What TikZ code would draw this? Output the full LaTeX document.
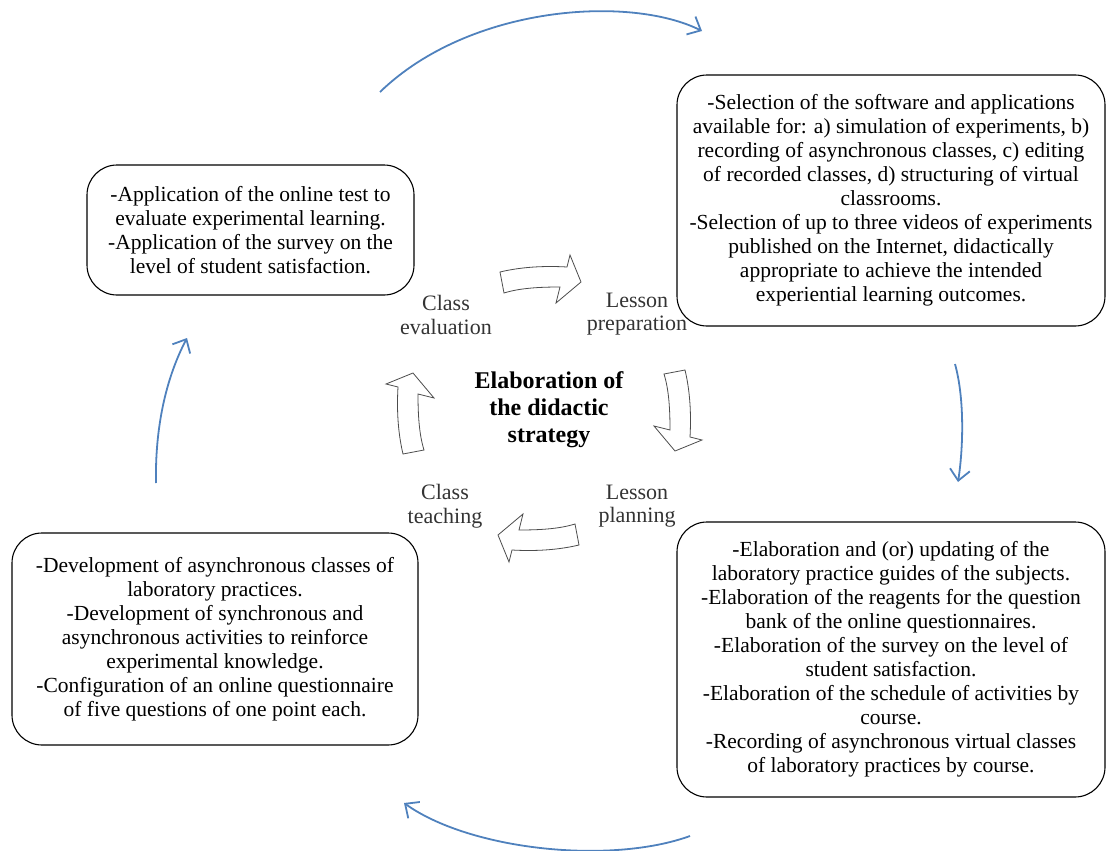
\documentclass[tikz,border=0pt]{standalone}
\usepackage{fontspec}
\setmainfont{Liberation Serif}
\usetikzlibrary{arrows.meta}
\definecolor{flowblue}{RGB}{79,129,189}
\begin{document}
\begin{tikzpicture}[x=1pt,y=-1pt,
  box/.style={draw, rounded corners=30pt, line width=1.1pt, align=center,
    font=\fontsize{21.5}{24}\selectfont, inner sep=0pt},
  lbl/.style={align=center, font=\fontsize{22}{23.5}\selectfont, text=black!80},
  title/.style={align=center, font=\fontsize{24}{27}\selectfont\bfseries},
  flow/.style={draw=flowblue, line width=1.8pt, -{Straight Barb[length=11pt,width=20pt,line width=1.8pt]}},
  barrow/.pic={
    \draw[line width=0.8pt, draw=black!70, fill=white, line join=miter]
      (-40,-10) .. controls (-15,-16) and (10,-16) .. (27,-15)
      -- (30,-27) -- (41,0) -- (16,21) -- (20,5)
      .. controls (0,5) and (-20,6) .. (-36,11) -- cycle;
  }]
\useasboundingbox (0,0) rectangle (1106,851);

% boxes
\node[box, minimum width=327pt, minimum height=130pt] (eval) at (250.5,230)
  {-Application of the online test to\\evaluate experimental learning.\\-Application of the survey on the\\level of student satisfaction.};
\node[box, minimum width=428pt, minimum height=251pt] (prep) at (891,200.5)
  {-Selection of the software and applications\\available for: a) simulation of experiments, b)\\recording of asynchronous classes, c) editing\\of recorded classes, d) structuring of virtual\\classrooms.\\-Selection of up to three videos of experiments\\published on the Internet, didactically\\appropriate to achieve the intended\\experiential learning outcomes.};
\node[box, minimum width=406pt, minimum height=212pt] (teach) at (215,639)
  {-Development of asynchronous classes of\\laboratory practices.\\-Development of synchronous and\\asynchronous activities to reinforce\\experimental knowledge.\\-Configuration of an online questionnaire\\of five questions of one point each.};
\node[box, minimum width=428pt, minimum height=275pt] (plan) at (891,659.5)
  {-Elaboration and (or) updating of the\\laboratory practice guides of the subjects.\\-Elaboration of the reagents for the question\\bank of the online questionnaires.\\-Elaboration of the survey on the level of\\student satisfaction.\\-Elaboration of the schedule of activities by\\course.\\-Recording of asynchronous virtual classes\\of laboratory practices by course.};

% labels
\node[lbl] (lEval) at (446,315) {Class\\evaluation};
\node[lbl] (lPrep) at (637,314) {Lesson\\preparation};
\node[lbl] (lTeach) at (445,506) {Class\\teaching};
\node[lbl] (lPlan) at (637,506) {Lesson\\planning};
\node[title] (center) at (549,410) {Elaboration of\\the didactic\\strategy};

% block arrows
\pic at (540,282) {barrow};
\pic[rotate=-90] at (675,410) {barrow};
\pic[rotate=180] at (539,535) {barrow};
\pic[rotate=90] at (413,414) {barrow};

% blue flow arrows
\coordinate (t1) at (380,92);  \coordinate (t2) at (702,31);
\coordinate (r1) at (955,364); \coordinate (r2) at (958,482);
\coordinate (b1) at (690,836); \coordinate (b2) at (404,803);
\coordinate (l1) at (156,483); \coordinate (l2) at (187,338);
\draw[flow] (t1) .. controls (470,5) and (630,-5) .. (t2);
\draw[flow] (r1) .. controls (965,400) and (963,450) .. (r2);
\draw[flow] (b1) .. controls (610,865) and (470,850) .. (b2);
\draw[flow] (l1) .. controls (155,430) and (165,380) .. (l2);
\end{tikzpicture}
\end{document}
